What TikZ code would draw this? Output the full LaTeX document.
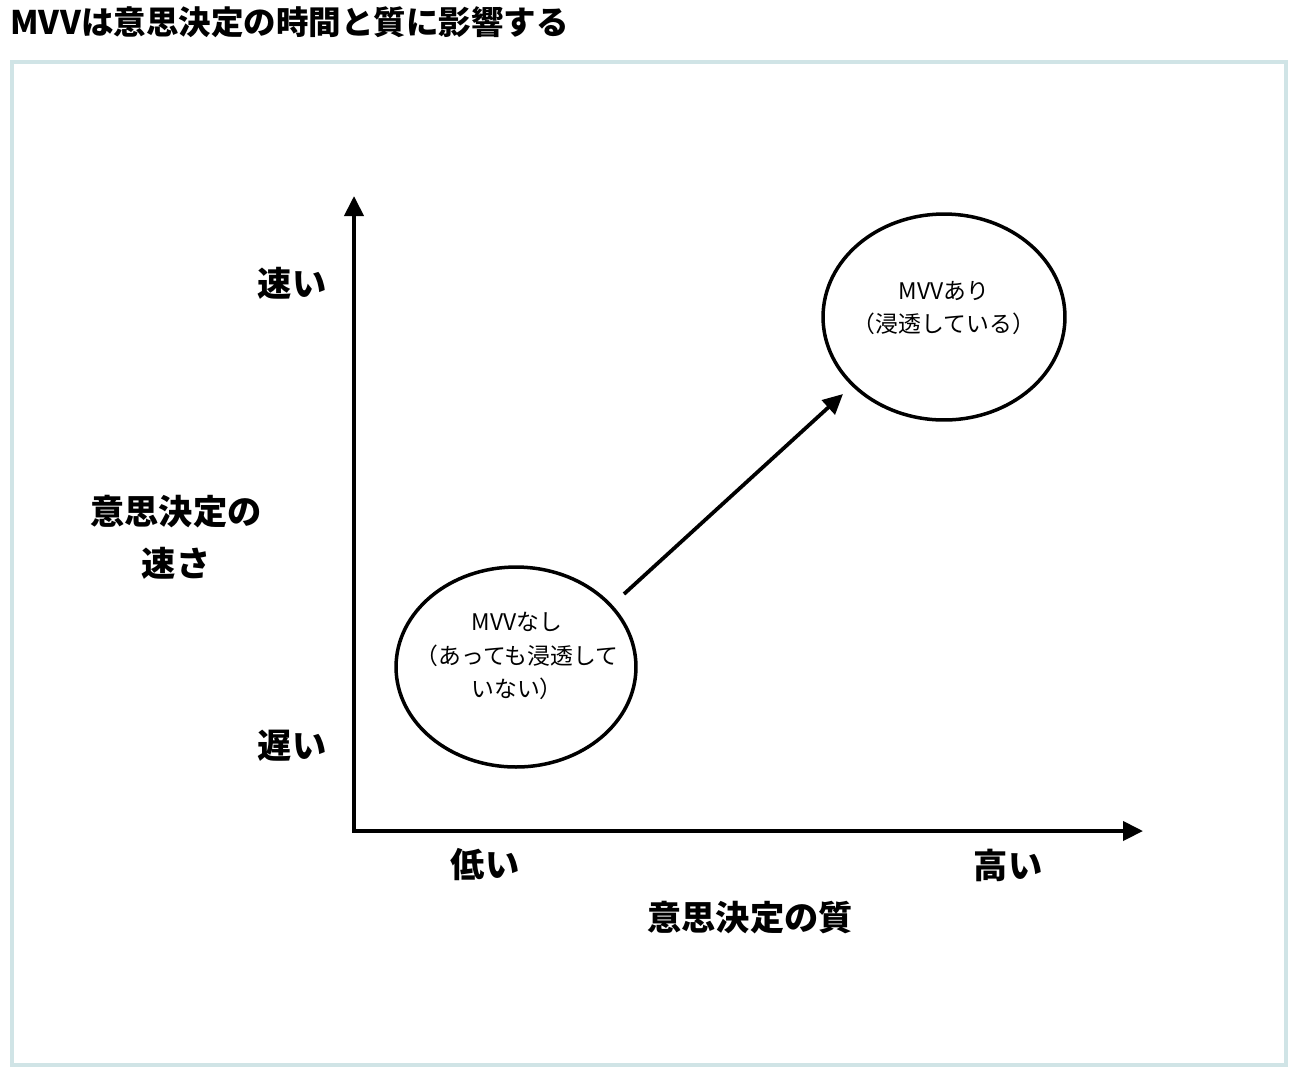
\documentclass[tikz,border=0pt]{standalone}
\usepackage{fontspec}
\setmainfont{Noto Sans CJK JP}
\usetikzlibrary{arrows.meta,shapes.geometric}
\definecolor{framecol}{RGB}{208,228,230}
\begin{document}
\begin{tikzpicture}[x=0.02cm,y=-0.02cm,
    axis/.style={line width=0.08cm,{Triangle[length=0.4cm,width=0.38cm]}-{Triangle[length=0.4cm,width=0.38cm]}},
    link/.style={line width=0.075cm,-{Triangle[length=0.4cm,width=0.38cm]}},
    axtext/.style={font=\fontsize{19.5}{29.5}\selectfont\bfseries,align=center,inner sep=0pt},
    bubble/.style={draw,ellipse,line width=0.07cm},
    bubbletext/.style={font=\fontsize{13}{19.3}\selectfont,align=center,inner sep=0pt}]
    \useasboundingbox (0,0) rectangle (1300,1080);
    %% frame and title
    \draw[framecol,line width=0.09cm] (12,62) rectangle (1286,1065);
    \node[anchor=west,inner sep=0pt,font=\fontsize{18.5}{22}\selectfont\bfseries] (title) at (10,22) {MVVは意思決定の時間と質に影響する};
    %% axes
    \coordinate (origin) at (354,831);
    \coordinate (ytop) at (354,196);
    \coordinate (xend) at (1143,831);
    \draw[axis] (ytop) -- (origin) -- (xend);
    \node[axtext] (fast) at (292,283) {速い};
    \node[axtext] (slow) at (292,746) {遅い};
    \node[axtext] (speed) at (176,537) {意思決定の\\速さ};
    \node[axtext] (low) at (485,865) {低い};
    \node[axtext] (high) at (1008,865) {高い};
    \node[axtext] (quality) at (750,918) {意思決定の質};
    %% bubbles
    \node[bubble,minimum width=4.8cm,minimum height=4cm] (without) at (516,667) {};
    \node[bubble,minimum width=4.84cm,minimum height=4.12cm] (with) at (944,317) {};
    \node[bubbletext] (withouttext) at (517,656) {MVVなし\\（あっても浸透して\\いない）};
    \node[bubbletext] (withtext) at (944,308) {MVVあり\\（浸透している）};
    %% arrow between bubbles
    \coordinate (from) at (624,594);
    \coordinate (to) at (843,394);
    \draw[link] (from) -- (to);
\end{tikzpicture}
\end{document}
